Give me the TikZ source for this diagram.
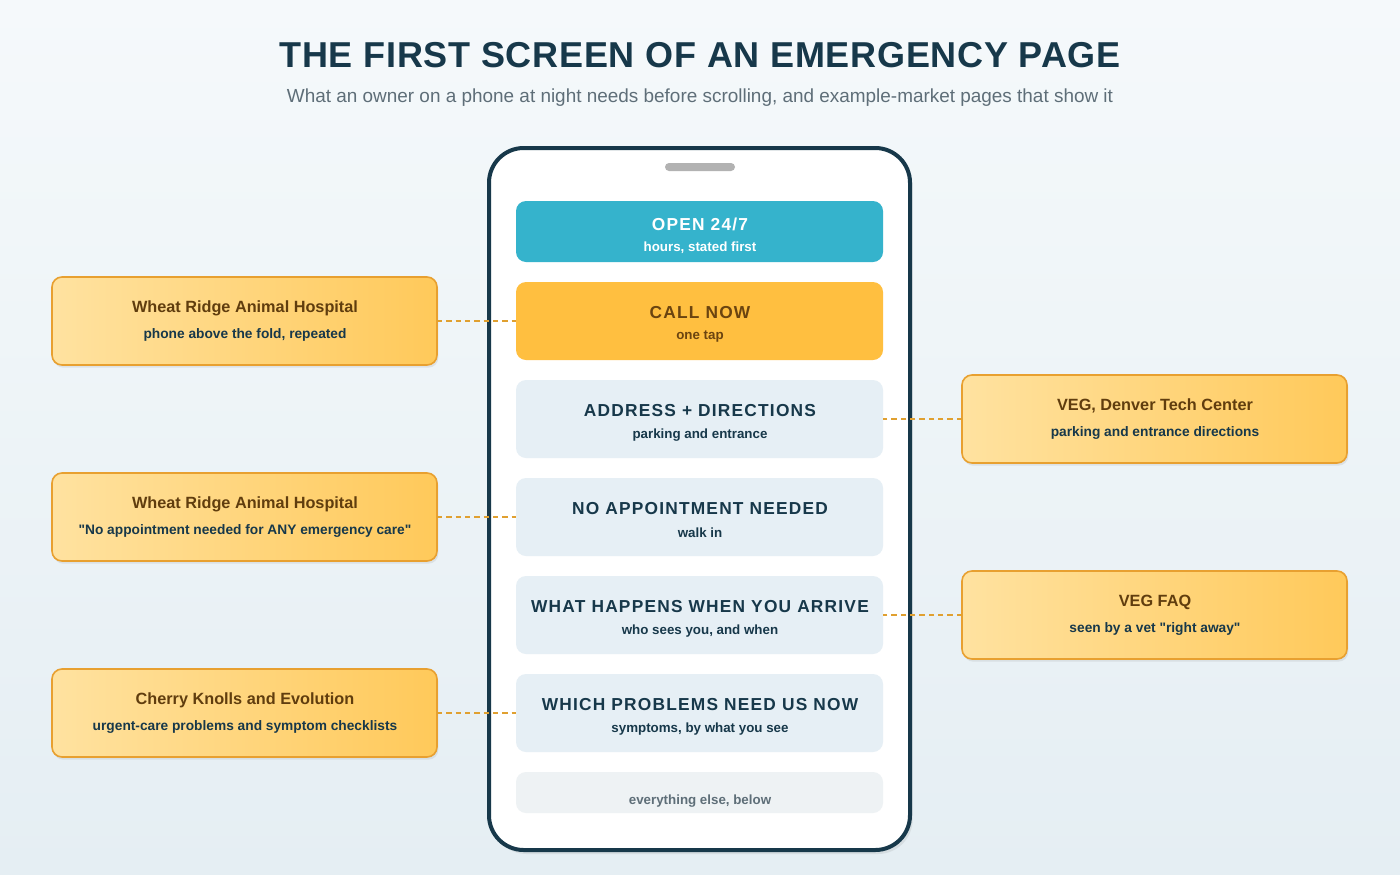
\documentclass[tikz,border=0pt]{standalone}
\usepackage{fontspec}
\setmainfont{Liberation Sans}
\usetikzlibrary{shadows}
\definecolor{ink}{HTML}{17384A}
\definecolor{sub}{HTML}{5E6E78}
\definecolor{teal}{HTML}{35B3CC}
\definecolor{amber}{HTML}{FFBF40}
\definecolor{brown}{HTML}{6B4410}
\definecolor{pale}{HTML}{E6EFF5}
\definecolor{paler}{HTML}{EEF2F4}
\definecolor{cl}{HTML}{FFE2A0}
\definecolor{cr}{HTML}{FFC95A}
\definecolor{cb}{HTML}{E8A030}
\definecolor{dash}{HTML}{E0A030}
\definecolor{bgt}{HTML}{F5F9FB}
\definecolor{bgb}{HTML}{E5EEF3}
\newcommand{\qq}{\XeTeXglyph5 }
\tikzset{
 box/.style={rounded corners=7.5pt, draw=none},
 bt/.style={font=\bfseries\fontsize{13}{15}\selectfont\addfontfeatures{LetterSpace=7}, text=ink},
 bs/.style={font=\bfseries\fontsize{10}{12}\selectfont, text=ink},
 call/.style={rounded corners=7.5pt, draw=cb, line width=1.2pt, left color=cl, right color=cr,
   drop shadow={shadow xshift=1pt, shadow yshift=-2pt, opacity=0.15}},
 ct/.style={font=\bfseries\fontsize{12.2}{14}\selectfont, text=brown!90!black},
 cs/.style={font=\bfseries\fontsize{10.3}{12}\selectfont, text=ink},
 link/.style={draw=dash, line width=1.5pt, dash pattern=on 4pt off 3pt},
}
\begin{document}
\begin{tikzpicture}[x=0.75pt,y=-0.75pt]
\fill[top color=bgt, bottom color=bgb] (0,0) rectangle (1400,875);
\node[font=\bfseries\fontsize{27}{30}\selectfont\addfontfeatures{LetterSpace=2}, text=ink] (title) at (700,55) {THE FIRST SCREEN OF AN EMERGENCY PAGE};
\node[font=\fontsize{14.2}{16}\selectfont, text=sub] (subt) at (700,98) {What an owner on a phone at night needs before scrolling, and example-market pages that show it};
% phone
\draw[ink, line width=3pt, fill=white, rounded corners=26pt, drop shadow={shadow xshift=2pt, shadow yshift=-3pt, opacity=0.15}] (489,148) rectangle (910,850);
\fill[gray!60, rounded corners=3pt] (665,163) rectangle (735,171);
% boxes
\fill[box, teal] (516,201) rectangle (883,262);
\node[bt, text=white] (b1) at (700,224) {OPEN 24/7};
\node[bs, text=white] at (700,248) {hours, stated first};
\fill[box, amber] (516,282) rectangle (883,360);
\node[bt, text=brown] (b2) at (700,313) {CALL NOW};
\node[bs, text=brown] at (700,337) {one tap};
\fill[box, pale] (516,380) rectangle (883,458);
\node[bt] (b3) at (700,411) {ADDRESS + DIRECTIONS};
\node[bs] at (700,435) {parking and entrance};
\fill[box, pale] (516,478) rectangle (883,556);
\node[bt] (b4) at (700,509) {NO APPOINTMENT NEEDED};
\node[bs] at (700,533) {walk in};
\fill[box, pale] (516,576) rectangle (883,654);
\node[bt] (b5) at (700,607) {WHAT HAPPENS WHEN YOU ARRIVE};
\node[bs] at (700,631) {who sees you, and when};
\fill[box, pale] (516,674) rectangle (883,752);
\node[bt] (b6) at (700,705) {WHICH PROBLEMS NEED US NOW};
\node[bs] at (700,729) {symptoms, by what you see};
\fill[box, paler] (516,772) rectangle (883,813);
\node[bs, text=sub] (b7) at (700,801) {everything else, below};
% anchors
\coordinate (b2l) at (516,321); \coordinate (b3r) at (883,419);
\coordinate (b4l) at (516,517); \coordinate (b5r) at (883,615);
\coordinate (b6l) at (516,713);
% callouts
\draw[call] (52,277) rectangle (437,365);
\node[ct] (c1) at (245,308) {Wheat Ridge Animal Hospital};
\node[cs] at (245,335) {phone above the fold, repeated};
\coordinate (c1r) at (437,321);
\draw[call] (52,473) rectangle (437,561);
\node[ct] (c2) at (245,504) {Wheat Ridge Animal Hospital};
\node[cs] at (245,531) {\qq No appointment needed for ANY emergency care\qq};
\coordinate (c2r) at (437,517);
\draw[call] (52,669) rectangle (437,757);
\node[ct] (c3) at (245,700) {Cherry Knolls and Evolution};
\node[cs] at (245,727) {urgent-care problems and symptom checklists};
\coordinate (c3r) at (437,713);
\draw[call] (962,375) rectangle (1347,463);
\node[ct] (c4) at (1155,406) {VEG, Denver Tech Center};
\node[cs] at (1155,433) {parking and entrance directions};
\coordinate (c4l) at (962,419);
\draw[call] (962,571) rectangle (1347,659);
\node[ct] (c5) at (1155,602) {VEG FAQ};
\node[cs] at (1155,629) {seen by a vet \qq right away\qq};
\coordinate (c5l) at (962,615);
\draw[link] (c1r) -- (b2l);
\draw[link] (c2r) -- (b4l);
\draw[link] (c3r) -- (b6l);
\draw[link] (c4l) -- (b3r);
\draw[link] (c5l) -- (b5r);
\end{tikzpicture}
\end{document}
